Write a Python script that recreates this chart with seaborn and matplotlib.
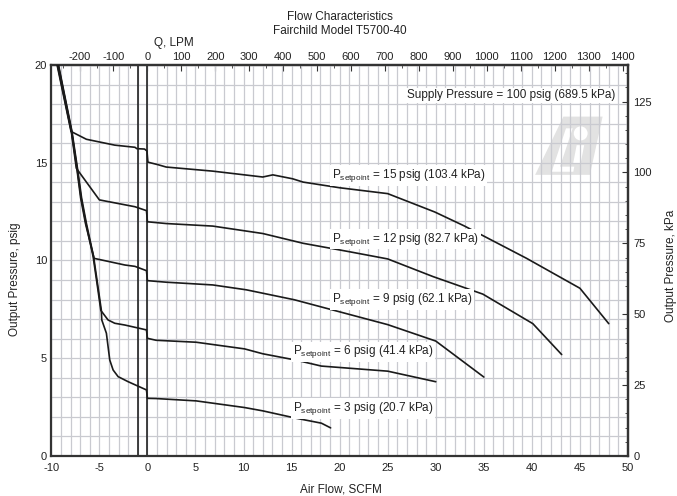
import pandas as pd
import matplotlib
matplotlib.use("Agg")
import matplotlib.pyplot as plt
from matplotlib.patches import Polygon, Ellipse
from matplotlib.ticker import MultipleLocator
import seaborn as sns

# conversion factors for the secondary axes
SCFM_TO_LPM = 28.3168
PSIG_TO_KPA = 6.89476

# regulator curves: air flow (SCFM) vs output pressure (psig)
flow_15 = [-9.40, -7.95, -6.35, -3.4, -1.3, -1.1, -0.3, -0.05, 0.05, 1.1, 1.95, 6.8,
           12.0, 13.05, 15.1, 16.2, 20.0, 25.0, 29.9, 33.0, 39.45, 45.0, 48.0]
psig_15 = [20.0, 16.6, 16.2, 15.9, 15.79, 15.72, 15.7, 15.6, 15.03, 14.9, 14.78, 14.57,
           14.27, 14.38, 14.18, 14.01, 13.72, 13.42, 12.48, 11.76, 10.11, 8.58, 6.77]

flow_12 = [-9.36, -7.92, -7.4, -5.0, -1.3, -0.1, 0.0, 1.95, 6.8, 12.0, 16.2, 21.0,
           25.0, 29.7, 34.9, 40.1, 43.1]
psig_12 = [20.0, 16.6, 14.72, 13.1, 12.75, 12.55, 11.98, 11.89, 11.76, 11.38, 10.88, 10.45,
           10.08, 9.18, 8.28, 6.77, 5.19]

flow_9 = [-9.32, -7.9, -7.35, -6.95, -6.45, -5.55, -2.35, -1.3, -0.1, 0.0, 1.95, 6.8,
          10.3, 15.3, 25.0, 30.0, 35.0]
psig_9 = [20.0, 16.6, 14.72, 13.2, 11.9, 10.11, 9.77, 9.7, 9.48, 8.97, 8.89, 8.75,
          8.5, 7.99, 6.72, 5.88, 4.04]

flow_6 = [-9.28, -7.88, -7.32, -6.9, -6.4, -5.65, -5.15, -4.85, -4.1, -3.4, -2.35, -0.1,
          0.0, 0.9, 5.07, 10.1, 12.0, 15.5, 18.1, 25.0, 30.0]
psig_6 = [20.0, 16.6, 14.72, 13.2, 11.9, 10.2, 8.5, 7.45, 6.96, 6.79, 6.7, 6.45,
          6.02, 5.92, 5.82, 5.48, 5.23, 4.9, 4.6, 4.34, 3.8]

flow_3 = [-9.25, -7.85, -7.28, -6.85, -6.35, -5.6, -5.1, -4.8, -4.75, -4.27, -3.92, -3.57,
          -3.05, -2.0, -0.1, 0.0, 0.9, 5.07, 10.1, 12.0, 15.5, 18.1, 19.06]
psig_3 = [20.0, 16.6, 14.72, 13.2, 11.9, 10.2, 8.5, 7.47, 6.96, 6.28, 4.91, 4.4,
          4.06, 3.8, 3.38, 2.95, 2.94, 2.82, 2.48, 2.31, 1.93, 1.68, 1.44]

setpoints = [15, 12, 9, 6, 3]
setpoint_kpa = ["103.4", "82.7", "62.1", "41.4", "20.7"]
flows = [flow_15, flow_12, flow_9, flow_6, flow_3]
pressures = [psig_15, psig_12, psig_9, psig_6, psig_3]

frames = []
for sp, fx, py in zip(setpoints, flows, pressures):
    frames.append(pd.DataFrame({"flow": fx, "psig": py, "setpoint": sp}))
df = pd.concat(frames, ignore_index=True)

sns.set_style("white")
plt.rcParams["font.family"] = ["Liberation Sans", "DejaVu Sans"]
plt.rcParams["mathtext.fontset"] = "custom"
plt.rcParams["mathtext.rm"] = "Liberation Sans"
plt.rcParams["text.color"] = "#222222"
plt.rcParams["axes.unicode_minus"] = False

fig = plt.figure(figsize=(6.77, 4.96), dpi=100)
ax = fig.add_axes([0.0758, 0.0806, 0.8518, 0.7884])

# faint logo watermark behind the grid (axes fraction coords)
logo_kw = dict(transform=ax.transAxes, zorder=0.2, lw=0)
ax.add_patch(Polygon([(0.888, 0.868), (0.956, 0.868), (0.934, 0.719), (0.839, 0.719)],
                     fc="#e2e2e2", **logo_kw))
ax.add_patch(Polygon([(0.8925, 0.838), (0.9041, 0.838), (0.8821, 0.740), (0.9069, 0.740),
                      (0.9052, 0.727), (0.8677, 0.727)], fc="white", **logo_kw))
ax.add_patch(Ellipse((0.918, 0.825), 0.024, 0.036, fc="white", **logo_kw))
ax.add_patch(Polygon([(0.911, 0.795), (0.924, 0.795), (0.918, 0.749), (0.905, 0.749)],
                     fc="white", **logo_kw))

ax.axvline(-1, color="#222222", lw=1.2, zorder=2)
ax.axvline(0, color="#222222", lw=1.2, zorder=2)

sns.lineplot(data=df, x="flow", y="psig", units="setpoint", estimator=None, sort=False,
             color="#1a1a1a", linewidth=1.2, legend=False, ax=ax, zorder=3)

ax.set_xlim(-10, 50)
ax.set_ylim(0, 20)
ax.xaxis.set_major_locator(MultipleLocator(5))
ax.xaxis.set_minor_locator(MultipleLocator(1))
ax.yaxis.set_major_locator(MultipleLocator(5))
ax.yaxis.set_minor_locator(MultipleLocator(1))
ax.grid(which="both", color="#c9cad0", lw=0.9)
ax.set_axisbelow(True)
ax.set_xlabel("")
ax.set_ylabel("")
for s in ax.spines.values():
    s.set_linewidth(1.6)
    s.set_color("#333333")
ax.tick_params(which="both", direction="in", colors="#333333", labelcolor="#222222", labelsize=8)
ax.tick_params(axis="x", which="major", length=4, pad=5)
ax.tick_params(axis="y", which="major", length=4, pad=3)
ax.tick_params(which="minor", length=2.5)

# top axis in LPM
secx = ax.secondary_xaxis("top", functions=(lambda x: x * SCFM_TO_LPM, lambda x: x / SCFM_TO_LPM))
secx.xaxis.set_major_locator(MultipleLocator(100))
secx.xaxis.set_minor_locator(MultipleLocator(50))
secx.tick_params(which="both", direction="in", colors="#333333", labelcolor="#222222", labelsize=8, pad=2.5)
secx.tick_params(which="major", length=4)
secx.tick_params(which="minor", length=2.5)
secx.spines["top"].set_linewidth(1.6)

# right axis in kPa
secy = ax.secondary_yaxis("right", functions=(lambda y: y * PSIG_TO_KPA, lambda y: y / PSIG_TO_KPA))
secy.yaxis.set_major_locator(MultipleLocator(25))
secy.yaxis.set_minor_locator(MultipleLocator(5))
secy.tick_params(which="both", direction="in", colors="#333333", labelcolor="#222222", labelsize=8, pad=4)
secy.tick_params(which="major", length=4)
secy.tick_params(which="minor", length=2.5)
secy.spines["right"].set_linewidth(1.6)

box = dict(fc="white", ec="none", pad=1.2)
ax.text(48.7, 18.3, "Supply Pressure = 100 psig (689.5 kPa)", ha="right", va="baseline",
        fontsize=8.5, bbox=box, zorder=4)
label_xy = {15: (19.2, 14.22), 12: (19.2, 10.96), 9: (19.2, 7.89), 6: (15.1, 5.2), 3: (15.1, 2.3)}
for sp, kpa in zip(setpoints, setpoint_kpa):
    lx, ly = label_xy[sp]
    ax.text(lx, ly, r"P$_{\mathrm{setpoint}}$" + f" = {sp} psig ({kpa} kPa)",
            ha="left", va="baseline", fontsize=8.5, bbox=box, zorder=4)

fig.text(340 / 677, 1 - 17 / 496, "Flow Characteristics", ha="center", va="center", fontsize=8.5)
fig.text(340 / 677, 1 - 31 / 496, "Fairchild Model T5700-40", ha="center", va="center", fontsize=8.5)
fig.text(174 / 677, 1 - 43 / 496, "Q, LPM", ha="center", va="center", fontsize=8.5)
fig.text(341 / 677, 1 - 489 / 496, "Air Flow, SCFM", ha="center", va="center", fontsize=8.5)
fig.text(15 / 677, 1 - 279 / 496, "Output Pressure, psig", rotation=90, ha="center", va="center", fontsize=8.5)
fig.text(671 / 677, 1 - 266 / 496, "Output Pressure, kPa", rotation=90, ha="center", va="center", fontsize=8.5)

fig.savefig("out.png", dpi=100)
